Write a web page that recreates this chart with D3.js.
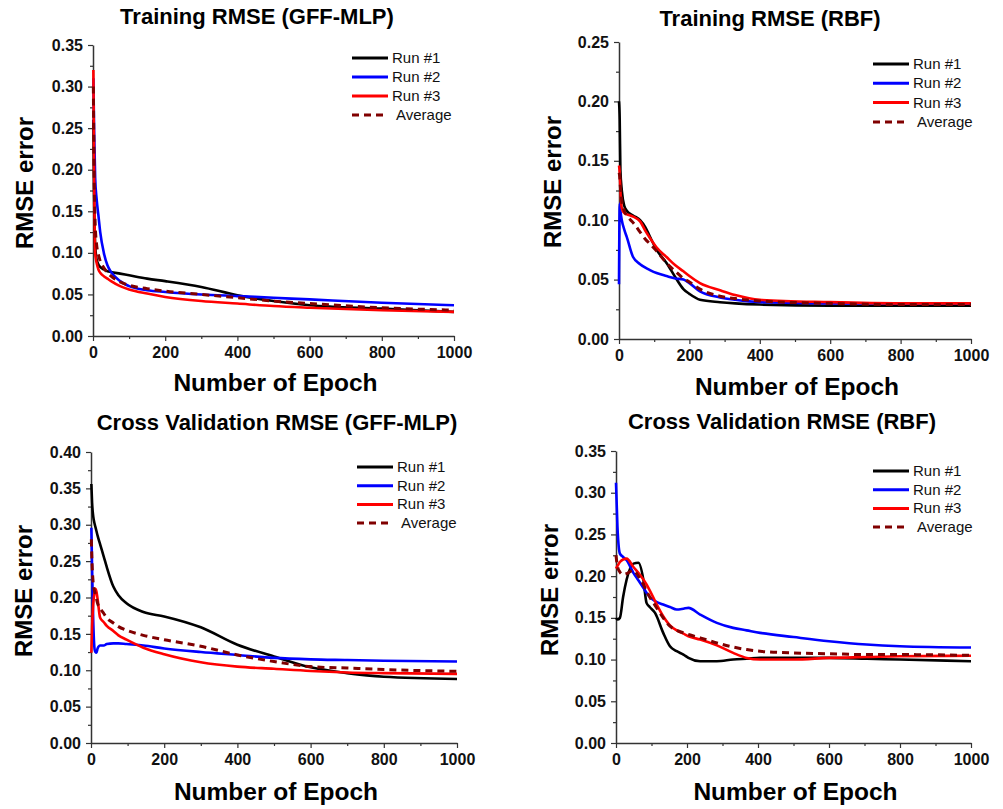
<!DOCTYPE html>
<html>
<head>
<meta charset="utf-8">
<script src="https://cdn.jsdelivr.net/npm/d3@7"></script>
<style>
  body { margin: 0; background: #fff; }
  svg { display: block; font-family: "Liberation Sans", Arial, sans-serif; }
</style>
</head>
<body>
<svg id="chart" width="1003" height="809"></svg>
<script>
// series names and colours
const seriesNames = ["Run #1", "Run #2", "Run #3", "Average"];
const seriesColors = ["#000000", "#0000ff", "#ff0000", "#800000"];

// Training RMSE (GFF-MLP)
const epochsTrainMlp = [1, 3, 6, 10, 15, 20, 30, 40, 50, 75, 100, 150, 200, 300, 400, 500, 600, 800, 1000];
const trainMlpRun1 = [0.26, 0.17, 0.11, 0.092, 0.086, 0.083, 0.080, 0.078, 0.077, 0.075, 0.073, 0.069, 0.066, 0.059, 0.049, 0.042, 0.037, 0.033, 0.029];
const trainMlpRun2 = [0.31, 0.25, 0.19, 0.165, 0.145, 0.125, 0.100, 0.085, 0.077, 0.066, 0.060, 0.055, 0.053, 0.050, 0.048, 0.046, 0.044, 0.040, 0.037];
const trainMlpRun3 = [0.32, 0.20, 0.10, 0.088, 0.080, 0.076, 0.072, 0.069, 0.066, 0.060, 0.056, 0.051, 0.047, 0.042, 0.039, 0.036, 0.034, 0.031, 0.029];
const trainMlpAvg  = [0.30, 0.20, 0.135, 0.110, 0.098, 0.090, 0.082, 0.076, 0.072, 0.065, 0.061, 0.057, 0.054, 0.050, 0.046, 0.042, 0.039, 0.034, 0.031];

// Training RMSE (RBF)
const epochsTrainRbf = [0, 2, 4, 8, 15, 22, 40, 60, 75, 88, 107, 135, 160, 183, 200, 230, 287, 330, 400, 600, 800, 1000];
const trainRbfRun1 = [0.200, 0.185, 0.142, 0.125, 0.112, 0.108, 0.104, 0.100, 0.094, 0.086, 0.075, 0.064, 0.052, 0.042, 0.038, 0.033, 0.031, 0.030, 0.029, 0.028, 0.028, 0.028];
const trainRbfRun2 = [0.046, 0.114, 0.108, 0.100, 0.092, 0.086, 0.069, 0.063, 0.060, 0.058, 0.0555, 0.053, 0.051, 0.050, 0.047, 0.040, 0.035, 0.033, 0.031, 0.030, 0.030, 0.030];
const trainRbfRun3 = [0.146, 0.140, 0.125, 0.110, 0.106, 0.105, 0.103, 0.099, 0.091, 0.085, 0.077, 0.069, 0.062, 0.057, 0.053, 0.047, 0.041, 0.037, 0.033, 0.031, 0.030, 0.030];
const trainRbfAvg  = [0.140, 0.137, 0.128, 0.116, 0.108, 0.104, 0.098, 0.090, 0.084, 0.080, 0.074, 0.064, 0.057, 0.051, 0.048, 0.042, 0.036, 0.034, 0.032, 0.030, 0.029, 0.029];

// Cross Validation RMSE (GFF-MLP)
const epochsCvMlp = [1, 3, 6, 10, 12, 15, 18, 25, 35, 43, 61, 75, 97, 143, 200, 300, 400, 500, 600, 700, 800, 1000];
const cvMlpRun1 = [0.356, 0.330, 0.312, 0.301, 0.297, 0.291, 0.285, 0.273, 0.256, 0.242, 0.215, 0.203, 0.192, 0.180, 0.174, 0.159, 0.135, 0.119, 0.104, 0.096, 0.091, 0.088];
const cvMlpRun2 = [0.296, 0.240, 0.170, 0.128, 0.125, 0.124, 0.130, 0.134, 0.134, 0.136, 0.137, 0.137, 0.136, 0.134, 0.130, 0.125, 0.121, 0.117, 0.115, 0.114, 0.113, 0.112];
const cvMlpRun3 = [0.124, 0.160, 0.190, 0.208, 0.212, 0.208, 0.198, 0.172, 0.166, 0.161, 0.154, 0.148, 0.142, 0.131, 0.122, 0.111, 0.105, 0.102, 0.099, 0.097, 0.096, 0.095];
const cvMlpAvg  = [0.280, 0.245, 0.220, 0.208, 0.205, 0.198, 0.192, 0.185, 0.178, 0.172, 0.165, 0.160, 0.155, 0.148, 0.142, 0.133, 0.121, 0.112, 0.105, 0.103, 0.101, 0.0985];

// Cross Validation RMSE (RBF)
const epochsCvRbf = [0, 4, 11, 20, 30, 49, 63, 77, 86, 95, 110, 133, 152, 171, 190, 204, 237, 284, 330, 368, 406, 500, 600, 706, 800, 1000];
const cvRbfRun1 = [0.150, 0.148, 0.150, 0.175, 0.196, 0.215, 0.216, 0.196, 0.168, 0.163, 0.156, 0.132, 0.116, 0.110, 0.106, 0.102, 0.098, 0.098, 0.100, 0.101, 0.102, 0.102, 0.102, 0.101, 0.100, 0.098];
const cvRbfRun2 = [0.312, 0.260, 0.227, 0.223, 0.219, 0.204, 0.195, 0.186, 0.180, 0.175, 0.170, 0.166, 0.163, 0.160, 0.161, 0.162, 0.154, 0.144, 0.138, 0.135, 0.132, 0.127, 0.122, 0.118, 0.116, 0.1145];
const cvRbfRun3 = [0.209, 0.212, 0.217, 0.220, 0.221, 0.211, 0.204, 0.196, 0.190, 0.183, 0.170, 0.152, 0.141, 0.135, 0.131, 0.128, 0.124, 0.117, 0.108, 0.102, 0.100, 0.100, 0.102, 0.103, 0.104, 0.1045];
const cvRbfAvg  = [0.225, 0.212, 0.205, 0.202, 0.203, 0.207, 0.200, 0.190, 0.182, 0.175, 0.165, 0.150, 0.140, 0.135, 0.132, 0.130, 0.126, 0.120, 0.115, 0.112, 0.110, 0.108, 0.107, 0.106, 0.106, 0.105];

// tick labels
const xTicks = [0, 200, 400, 600, 800, 1000];
const xMinorTicks = [100, 300, 500, 700, 900];

const panels = [
  { title: "Training RMSE (GFF-MLP)", epochs: epochsTrainMlp, series: [trainMlpRun1, trainMlpRun2, trainMlpRun3, trainMlpAvg],
    yMax: 0.35, left: 93, right: 454, top: 45, bottom: 336, titleX: 257, titleY: 24, yLabX: 33, yLabY: 183, xLabY: 391, legX: 352, legY: 58, legGap: 19 },
  { title: "Training RMSE (RBF)", epochs: epochsTrainRbf, series: [trainRbfRun1, trainRbfRun2, trainRbfRun3, trainRbfAvg],
    yMax: 0.25, left: 619, right: 971, top: 42, bottom: 339, titleX: 770, titleY: 26, yLabX: 561, yLabY: 182, xLabY: 395, legX: 873, legY: 64, legGap: 19.3 },
  { title: "Cross Validation RMSE (GFF-MLP)", epochs: epochsCvMlp, series: [cvMlpRun1, cvMlpRun2, cvMlpRun3, cvMlpAvg],
    yMax: 0.40, left: 91, right: 457, top: 452, bottom: 743, titleX: 277, titleY: 430, yLabX: 32, yLabY: 591, xLabY: 800, legX: 357, legY: 467, legGap: 18.7 },
  { title: "Cross Validation RMSE (RBF)", epochs: epochsCvRbf, series: [cvRbfRun1, cvRbfRun2, cvRbfRun3, cvRbfAvg],
    yMax: 0.35, left: 616, right: 971, top: 451, bottom: 743, titleX: 782, titleY: 429, yLabX: 558, yLabY: 590, xLabY: 800, legX: 873, legY: 471, legGap: 18.7 }
];

const svg = d3.select("#chart");

panels.forEach(p => {
  const x = d3.scaleLinear().domain([0, 1000]).range([p.left, p.right]);
  const y = d3.scaleLinear().domain([0, p.yMax]).range([p.bottom, p.top]);
  const g = svg.append("g");

  const yMajor = d3.range(0, p.yMax + 1e-9, 0.05);
  const yMinor = d3.range(0.025, p.yMax, 0.05);

  // minor ticks first
  g.append("g").attr("transform", `translate(0,${p.bottom})`)
    .call(d3.axisBottom(x).tickValues(xMinorTicks).tickSize(3).tickFormat(""))
    .call(a => a.select(".domain").remove());
  g.append("g").attr("transform", `translate(${p.left},0)`)
    .call(d3.axisLeft(y).tickValues(yMinor).tickSize(3).tickFormat(""))
    .call(a => a.select(".domain").remove());

  const xAxis = g.append("g").attr("transform", `translate(0,${p.bottom})`)
    .call(d3.axisBottom(x).tickValues(xTicks).tickSize(5).tickSizeOuter(0).tickPadding(6).tickFormat(d3.format("d")));
  const yAxis = g.append("g").attr("transform", `translate(${p.left},0)`)
    .call(d3.axisLeft(y).tickValues(yMajor).tickSize(5).tickSizeOuter(0).tickPadding(5).tickFormat(d3.format(".2f")));

  [xAxis, yAxis].forEach(a => {
    a.selectAll("text").attr("font-size", 16).attr("font-weight", "bold").attr("fill", "#111")
      .attr("font-family", "'Liberation Sans', Arial, sans-serif");
  });
  g.selectAll(".domain").attr("stroke", "#333").attr("stroke-width", 1.5);
  g.selectAll(".tick line").attr("stroke", "#333").attr("stroke-width", 1.2);

  // series lines
  const line = d3.line()
    .x((d, i) => x(p.epochs[i]))
    .y(d => y(d))
    .curve(d3.curveMonotoneX);

  // average drawn last so the dashes sit on top
  [0, 1, 2, 3].forEach(k => {
    g.append("path")
      .datum(p.series[k])
      .attr("d", line)
      .attr("fill", "none")
      .attr("stroke", seriesColors[k])
      .attr("stroke-width", k === 3 ? 3 : 2.6)
      .attr("stroke-dasharray", k === 3 ? "7,5" : null)
      .attr("stroke-linejoin", "round");
  });

  // title
  g.append("text").attr("x", p.titleX).attr("y", p.titleY)
    .attr("text-anchor", "middle").attr("font-size", 22).attr("font-weight", "bold")
    .text(p.title);

  // axis labels
  g.append("text")
    .attr("transform", `translate(${p.yLabX},${p.yLabY}) rotate(-90)`)
    .attr("text-anchor", "middle").attr("font-size", 24).attr("font-weight", "bold")
    .text("RMSE error");
  g.append("text").attr("x", (p.left + p.right) / 2 + 2).attr("y", p.xLabY)
    .attr("text-anchor", "middle").attr("font-size", 24.5).attr("font-weight", "bold")
    .text("Number of Epoch");

  // legend
  seriesNames.forEach((name, k) => {
    const ly = p.legY + k * p.legGap;
    g.append("line")
      .attr("x1", p.legX).attr("x2", p.legX + 36)
      .attr("y1", ly).attr("y2", ly)
      .attr("stroke", seriesColors[k]).attr("stroke-width", 3)
      .attr("stroke-dasharray", k === 3 ? "7,5" : null);
    g.append("text")
      .attr("x", p.legX + 40 + (k === 3 ? 4 : 0)).attr("y", ly + 5)
      .attr("font-size", 15).attr("fill", "#111")
      .text(name);
  });
});
</script>
</body>
</html>
